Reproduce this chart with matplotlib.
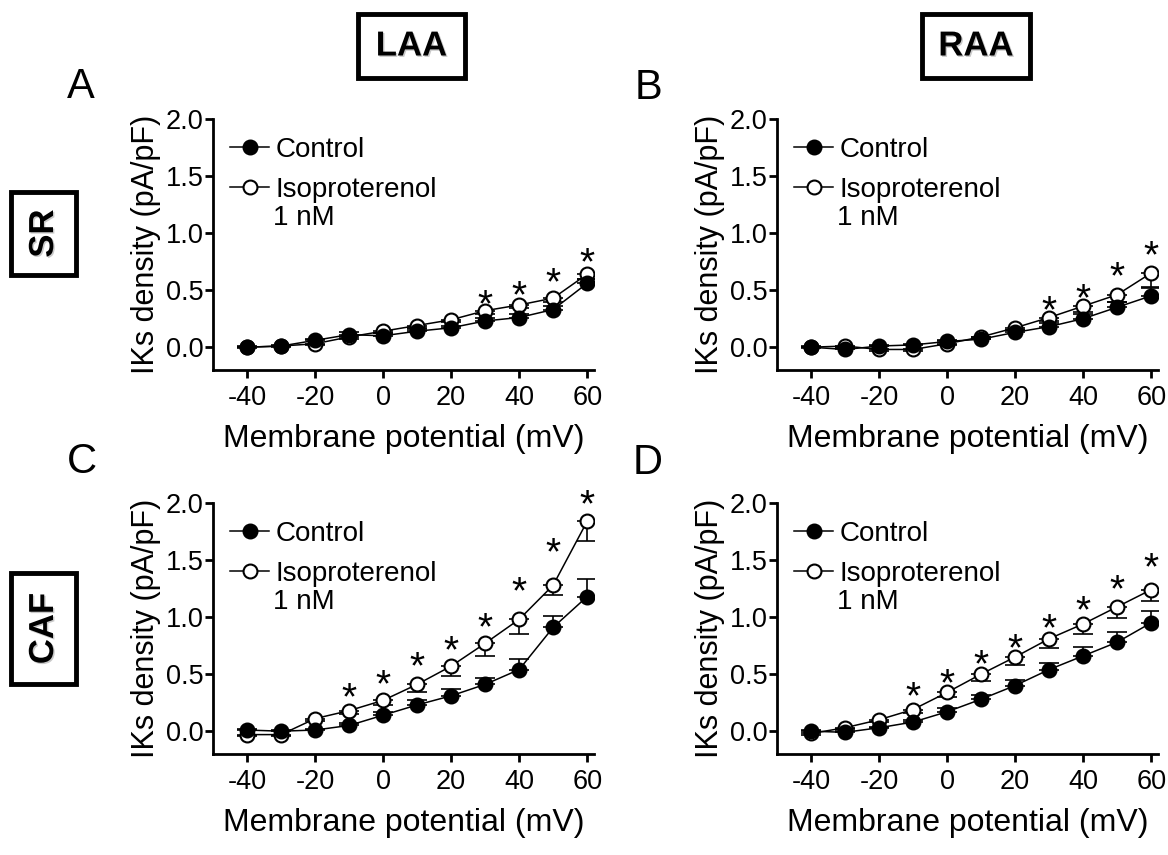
import matplotlib
matplotlib.use("Agg")
import matplotlib.pyplot as plt
import matplotlib.patheffects as pe
from matplotlib.patches import Rectangle
from matplotlib.transforms import offset_copy

plt.rcParams['font.family'] = ['Liberation Sans', 'DejaVu Sans']
plt.rcParams['axes.unicode_minus'] = False

W, H = 1168, 855

voltages = [-40, -30, -20, -10, 0, 10, 20, 30, 40, 50, 60]

# panel A: LAA, SR
laa_sr_ctrl = [0.00, 0.01, 0.06, 0.11, 0.10, 0.14, 0.17, 0.23, 0.26, 0.33, 0.56]
laa_sr_iso = [0.00, 0.01, 0.03, 0.09, 0.14, 0.19, 0.24, 0.32, 0.37, 0.43, 0.64]
laa_sr_ctrl_sem = [0.01, 0.01, 0.01, 0.02, 0.02, 0.02, 0.02, 0.03, 0.03, 0.03, 0.04]
laa_sr_iso_sem = [0.01, 0.01, 0.01, 0.02, 0.02, 0.02, 0.02, 0.03, 0.03, 0.03, 0.04]
laa_sr_star_v = [30, 40, 50, 60]
laa_sr_star_y = [0.47, 0.55, 0.66, 0.84]

# panel B: RAA, SR
raa_sr_ctrl = [0.00, -0.02, 0.01, 0.02, 0.05, 0.07, 0.13, 0.18, 0.25, 0.35, 0.45]
raa_sr_iso = [0.00, 0.01, -0.02, -0.02, 0.03, 0.09, 0.17, 0.26, 0.36, 0.46, 0.65]
raa_sr_ctrl_sem = [0.01, 0.01, 0.01, 0.01, 0.01, 0.02, 0.02, 0.03, 0.04, 0.05, 0.07]
raa_sr_iso_sem = [0.01, 0.01, 0.01, 0.01, 0.01, 0.02, 0.02, 0.03, 0.05, 0.06, 0.12]
raa_sr_star_v = [30, 40, 50, 60]
raa_sr_star_y = [0.42, 0.52, 0.71, 0.90]

# panel C: LAA, CAF
laa_caf_ctrl = [0.01, 0.00, 0.01, 0.05, 0.14, 0.23, 0.31, 0.41, 0.54, 0.91, 1.18]
laa_caf_iso = [-0.03, -0.03, 0.11, 0.18, 0.27, 0.41, 0.57, 0.77, 0.98, 1.28, 1.84]
laa_caf_ctrl_sem = [0.01, 0.01, 0.01, 0.02, 0.03, 0.04, 0.06, 0.06, 0.09, 0.10, 0.15]
laa_caf_iso_sem = [0.01, 0.01, 0.02, 0.03, 0.04, 0.07, 0.09, 0.11, 0.13, 0.09, 0.17]
laa_caf_star_v = [-10, 0, 10, 20, 30, 40, 50, 60]
laa_caf_star_y = [0.39, 0.50, 0.66, 0.80, 1.00, 1.32, 1.66, 2.08]

# panel D: RAA, CAF
raa_caf_ctrl = [0.00, -0.01, 0.03, 0.08, 0.17, 0.28, 0.40, 0.54, 0.66, 0.78, 0.95]
raa_caf_iso = [-0.02, 0.03, 0.10, 0.19, 0.34, 0.50, 0.65, 0.81, 0.94, 1.09, 1.24]
raa_caf_ctrl_sem = [0.01, 0.01, 0.01, 0.02, 0.03, 0.04, 0.05, 0.06, 0.08, 0.09, 0.10]
raa_caf_iso_sem = [0.01, 0.01, 0.02, 0.03, 0.04, 0.06, 0.07, 0.08, 0.09, 0.10, 0.10]
raa_caf_star_v = [-10, 0, 10, 20, 30, 40, 50, 60]
raa_caf_star_y = [0.40, 0.51, 0.68, 0.82, 0.99, 1.15, 1.34, 1.53]

yticks = [0.0, 0.5, 1.0, 1.5, 2.0]
xticks = [-40, -20, 0, 20, 40, 60]

TICK_FS = 19.5
LEG_FS = 20
LABEL_FS = 22
STAR_FS = 28

fig = plt.figure(figsize=(W / 100, H / 100), dpi=100)


def fx(x):
    return x / W


def fy(y):
    return 1 - y / H


def panel(left_px, top_px, ctrl, iso, ctrl_sem, iso_sem, star_v, star_y):
    ax = fig.add_axes([fx(left_px), fy(top_px + 251), 381 / W, 251 / H])
    zeros = [0] * len(voltages)
    ax.errorbar(voltages, ctrl, yerr=[zeros, ctrl_sem], fmt='none', ecolor='black',
                elinewidth=1.2, capsize=7, capthick=1.2, zorder=1)
    ax.errorbar(voltages, iso, yerr=[iso_sem, zeros], fmt='none', ecolor='black',
                elinewidth=1.2, capsize=7, capthick=1.2, zorder=1)
    ax.plot(voltages, iso, '-o', color='black', lw=1.1, ms=10, mfc='white',
            mec='black', mew=1.5, zorder=2, label='Isoproterenol')
    ax.plot(voltages, ctrl, '-o', color='black', lw=1.1, ms=10, mfc='black',
            mec='black', mew=1.5, zorder=3, label='Control')
    star_tr = offset_copy(ax.transData, fig=fig, y=-0.58 * STAR_FS, units='points')
    for v, y in zip(star_v, star_y):
        ax.text(v, y, '*', ha='center', va='baseline', fontsize=STAR_FS,
                transform=star_tr, clip_on=False)

    ax.set_xlim(-50, 62)
    ax.set_ylim(-0.2, 2.0)
    ax.set_xticks(xticks)
    ax.set_yticks(yticks)
    ax.set_yticklabels([f'{t:.1f}' for t in yticks])
    for s in ['top', 'right']:
        ax.spines[s].set_visible(False)
    for s in ['left', 'bottom']:
        ax.spines[s].set_linewidth(2)
    ax.tick_params(axis='both', width=2, length=6, labelsize=TICK_FS)
    ax.tick_params(axis='y', pad=1)
    ax.tick_params(axis='x', pad=5)
    ax.set_xlabel('Membrane potential (mV)', fontsize=LABEL_FS + 1, labelpad=9)
    ax.set_ylabel('IKs density (pA/pF)', fontsize=LABEL_FS, labelpad=3)

    h, l = ax.get_legend_handles_labels()
    ax.legend(h[::-1], l[::-1], loc='upper left', bbox_to_anchor=(0.045, 0.928),
              frameon=False, fontsize=LEG_FS, borderpad=0, borderaxespad=0,
              handlelength=1.4, handletextpad=0.25, labelspacing=0.5)
    ax.text(0.157, 0.606, '1 nM', transform=ax.transAxes, fontsize=LEG_FS,
            ha='left', va='center')
    return ax


panel(213, 119, laa_sr_ctrl, laa_sr_iso, laa_sr_ctrl_sem, laa_sr_iso_sem,
      laa_sr_star_v, laa_sr_star_y)
panel(777, 119, raa_sr_ctrl, raa_sr_iso, raa_sr_ctrl_sem, raa_sr_iso_sem,
      raa_sr_star_v, raa_sr_star_y)
panel(213, 503, laa_caf_ctrl, laa_caf_iso, laa_caf_ctrl_sem, laa_caf_iso_sem,
      laa_caf_star_v, laa_caf_star_y)
panel(777, 503, raa_caf_ctrl, raa_caf_iso, raa_caf_ctrl_sem, raa_caf_iso_sem,
      raa_caf_star_v, raa_caf_star_y)

# panel letters
for letter, (x, y) in zip('ABCD', [(81, 87), (648, 88), (82, 462), (648, 463)]):
    fig.text(fx(x), fy(y), letter, fontsize=30, ha='center', va='center')

# boxed group labels
shadow = [pe.SimplePatchShadow(offset=(1.0, -1.0), shadow_rgbFace='0.7', alpha=0.7), pe.Normal()]
boxes = [('LAA', 358, 14, 107, 64, 0), ('RAA', 922, 14, 108, 64, 0),
         ('SR', 11, 192, 65, 83, 90), ('CAF', 11, 573, 65, 111, 90)]
for label, x0, y0, w, h, rot in boxes:
    fig.add_artist(Rectangle((fx(x0), fy(y0 + h)), w / W, h / H, fill=False,
                             lw=3.5, edgecolor='black', transform=fig.transFigure))
    fig.text(fx(x0 + w / 2), fy(y0 + h / 2), label, fontsize=25, fontweight='bold',
             ha='center', va='center', rotation=rot, path_effects=shadow)

fig.savefig('out.png', dpi=100)
